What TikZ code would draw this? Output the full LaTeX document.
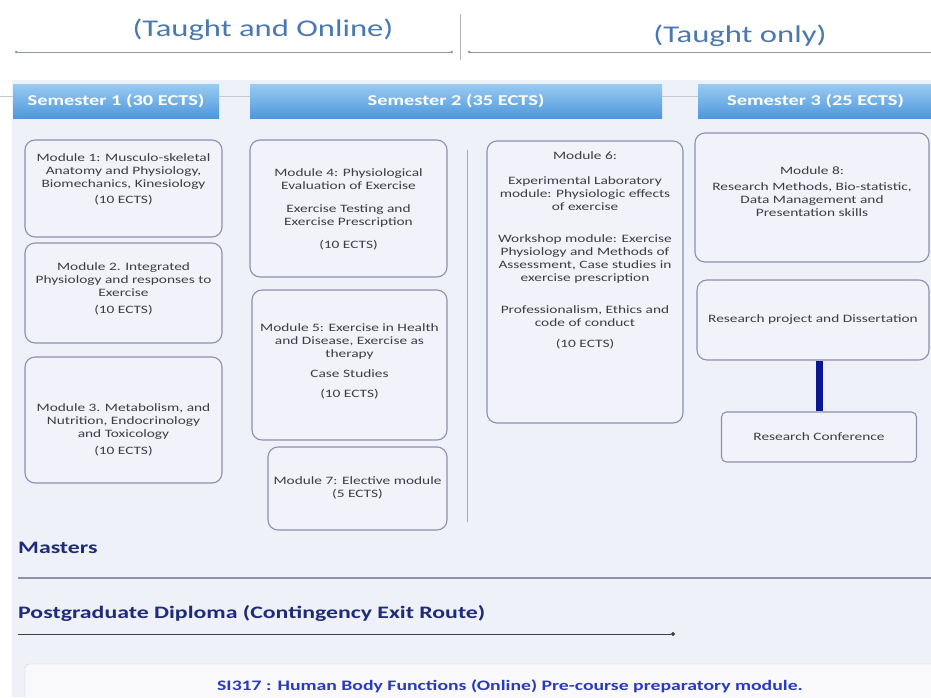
\documentclass[tikz,border=0pt]{standalone}
\usepackage{fontspec}
\setmainfont[FakeStretch=1.36]{Carlito}
\usetikzlibrary{arrows.meta}
\definecolor{panel}{HTML}{EFF1F8}
\definecolor{boxfill}{HTML}{F2F3FA}
\definecolor{boxline}{HTML}{8C8FAE}
\definecolor{modtext}{HTML}{3C3C44}
\definecolor{titleblue}{HTML}{4A78B2}
\definecolor{barTop}{HTML}{9ACBF2}
\definecolor{barBot}{HTML}{4E97DC}
\definecolor{navy}{HTML}{1E2A7A}
\definecolor{darknavy}{HTML}{0B1790}
\definecolor{botblue}{HTML}{2B3AB8}
\definecolor{rule}{HTML}{8E93AA}
\tikzset{
  modbox/.style={draw=boxline, line width=1.1pt, rounded corners=10pt, fill=boxfill, inner sep=0pt},
  modtxt/.style={align=center, text=modtext, font=\fontsize{11.3}{13}\selectfont, inner sep=0pt},
  sembar/.style={top color=barTop, bottom color=barBot, draw=none,
    text=white, font=\fontsize{15}{17}\selectfont\bfseries, minimum height=34pt, inner sep=0pt},
  lbl/.style={anchor=west, inner sep=0pt, text=navy, font=\fontsize{17.5}{20}\selectfont\bfseries},
  ttl/.style={text=titleblue, font=\fontsize{24}{27}\selectfont, inner sep=0pt},
}
\begin{document}
\begin{tikzpicture}[x=1pt,y=-1pt]
\useasboundingbox (0,0) rectangle (931,697);
\fill[white] (0,0) rectangle (931,697);
\fill[panel] (12,80) rectangle (931,697);
% top titles
\node[ttl] (t1) at (263,30) {(Taught and Online)};
\node[ttl] (t2) at (740,36) {(Taught only)};
\coordinate (a1) at (15,52);
\coordinate (a2) at (453,52);
\coordinate (a3) at (468,52);
\coordinate (a4) at (931,52);
\coordinate (v1) at (460,14);
\coordinate (v2) at (460,60);
\draw[rule, line width=0.7pt, {Circle[length=2.5pt]}-{Circle[length=2.5pt]}] (a1) -- (a2);
\draw[rule, line width=0.7pt, {Circle[length=2.5pt]}-] (a3) -- (a4);
\draw[rule!70, line width=0.8pt] (v1) -- (v2);
% semester bars
\coordinate (g1) at (0,96);
\coordinate (g2) at (931,96);
\draw[rule!50, line width=1pt] (g1) -- (g2);
\node[sembar, minimum width=206pt] (s1) at (116,101) {Semester 1 (30 ECTS)};
\node[sembar, minimum width=412pt] (s2) at (456,101) {Semester 2 (35 ECTS)};
\node[sembar, minimum width=235pt] (s3) at (815.5,101) {Semester 3 (25 ECTS)};
% semester 1 modules
\node[modbox, minimum width=197pt, minimum height=97pt] (m1) at (123.5,188.5) {};
\node[modtxt] (m1t) at (123.5,179)
  {Module 1: Musculo-skeletal\\Anatomy and Physiology,\\Biomechanics, Kinesiology\\[3pt](10 ECTS)};
\node[modbox, minimum width=197pt, minimum height=100pt] (m2) at (123.5,293) {};
\node[modtxt] (m2t) at (123.5,289)
  {Module 2. Integrated\\Physiology and responses to\\Exercise\\[4pt](10 ECTS)};
\node[modbox, minimum width=197pt, minimum height=126pt] (m3) at (123.5,420) {};
\node[modtxt] (m3t) at (123.5,430)
  {Module 3. Metabolism, and\\Nutrition, Endocrinology\\and Toxicology\\[4pt](10 ECTS)};
% semester 2 modules
\node[modbox, minimum width=197pt, minimum height=137pt] (m4) at (348.5,208.5) {};
\node[modtxt] (m4t) at (348.5,209)
  {Module 4: Physiological\\Evaluation of Exercise\\[10pt]Exercise Testing and\\Exercise Prescription\\[10pt](10 ECTS)};
\node[modbox, minimum width=195pt, minimum height=150pt] (m5) at (349.5,365) {};
\node[modtxt] (m5t) at (349.5,361)
  {Module 5: Exercise in Health\\and Disease, Exercise as\\therapy\\[7pt]Case Studies\\[7pt](10 ECTS)};
\node[modbox, minimum width=179pt, minimum height=83pt] (m7) at (357.5,488.5) {};
\node[modtxt] (m7t) at (357.5,488)
  {Module 7: Elective module\\(5 ECTS)};
\coordinate (d1) at (467,150);
\coordinate (d2) at (467,522);
\draw[rule!80, line width=1pt] (d1) -- (d2);
\node[modbox, minimum width=196pt, minimum height=282pt] (m6) at (585,282) {};
\node[modtxt, anchor=north] (m6t) at (585,151)
  {Module 6:\\[12pt]Experimental Laboratory\\module: Physiologic effects\\of exercise\\[19pt]Workshop module: Exercise\\Physiology and Methods of\\Assessment, Case studies in\\exercise prescription\\[19pt]Professionalism, Ethics and\\code of conduct\\[8pt](10 ECTS)};
% semester 3
\node[modbox, minimum width=234pt, minimum height=129pt] (m8) at (812,197.5) {};
\node[modtxt] (m8t) at (812,192)
  {Module 8:\\[3pt]Research Methods, Bio-statistic,\\Data Management and\\Presentation skills};
\node[modbox, minimum width=232pt, minimum height=80pt] (rp) at (813,320) {};
\node[modtxt] (rpt) at (813,320) {Research project and Dissertation};
\node[modbox, rounded corners=5pt, minimum width=195pt, minimum height=50pt] (rc) at (819,437) {};
\node[modtxt] (rct) at (819,437) {Research Conference};
\draw[darknavy, line width=7pt] (rc.north) -- (rc.north |- rp.south);
% exits
\node[lbl] (ma) at (18,548) {Masters};
\coordinate (r1) at (18,578);
\coordinate (r2) at (931,578);
\draw[rule, line width=2.5pt] (r1) -- (r2);
\node[lbl] (pg) at (18,613) {Postgraduate Diploma (Contingency Exit Route)};
\coordinate (p1) at (18,634);
\coordinate (p2) at (675,634);
\draw[black!75, line width=0.9pt, -{Circle[length=4pt]}] (p1) -- (p2);
% preparatory module
\node[draw=rule!45, fill=white!60!panel, rounded corners=4pt, minimum width=912pt, minimum height=40pt, inner sep=0pt] (si) at (481,684) {};
\node[text=botblue, font=\fontsize{14.5}{17}\selectfont\bfseries, inner sep=0pt] (sit) at (510,686)
  {SI317 : Human Body Functions (Online) Pre-course preparatory module.};
\end{tikzpicture}
\end{document}
